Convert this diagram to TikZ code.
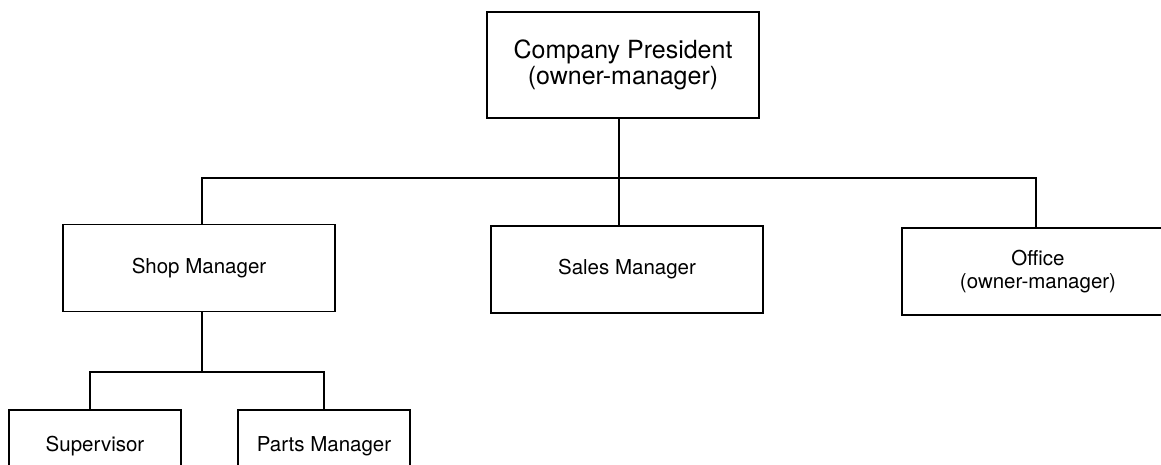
\documentclass[tikz,border=0pt]{standalone}
\usepackage{fontspec}
\setmainfont{TeX Gyre Heros}
\begin{document}
\begin{tikzpicture}[x=1pt,y=-1pt,
  box/.style={draw, line width=1.9pt, inner sep=0pt, align=center,
    font=\fontsize{20.5}{23}\selectfont, minimum width=272pt, minimum height=87pt},
  smallbox/.style={box, minimum width=172pt, minimum height=72pt},
  conn/.style={line width=1.9pt}]
\clip (0,0) rectangle (1161,465);
\node[box, minimum height=106pt, font=\fontsize{25}{26}\selectfont] (pres) at (623,65) {Company President\\(owner-manager)};
\node[box] (shop) at (199,268) {Shop Manager};
\node[box] (sales) at (627,269.5) {Sales Manager};
\node[box] (office) at (1038,271.5) {Office\\(owner-manager)};
\node[smallbox] (sup) at (95,446) {Supervisor};
\node[smallbox] (parts) at (324,446) {Parts Manager};
\coordinate (j) at (619,178);
\coordinate (bl) at (202,178);
\coordinate (br) at (1036,178);
\coordinate (sj) at (202,372);
\coordinate (sl) at (90,372);
\coordinate (sr) at (324,372);
\draw[conn] (j |- pres.south) -- (j |- sales.north);
\draw[conn] (bl |- shop.north) -- (bl) -- (br) -- (br |- office.north);
\draw[conn] (sj |- shop.south) -- (sj);
\draw[conn] (sl |- sup.north) -- (sl) -- (sr) -- (sr |- parts.north);
\end{tikzpicture}
\end{document}
